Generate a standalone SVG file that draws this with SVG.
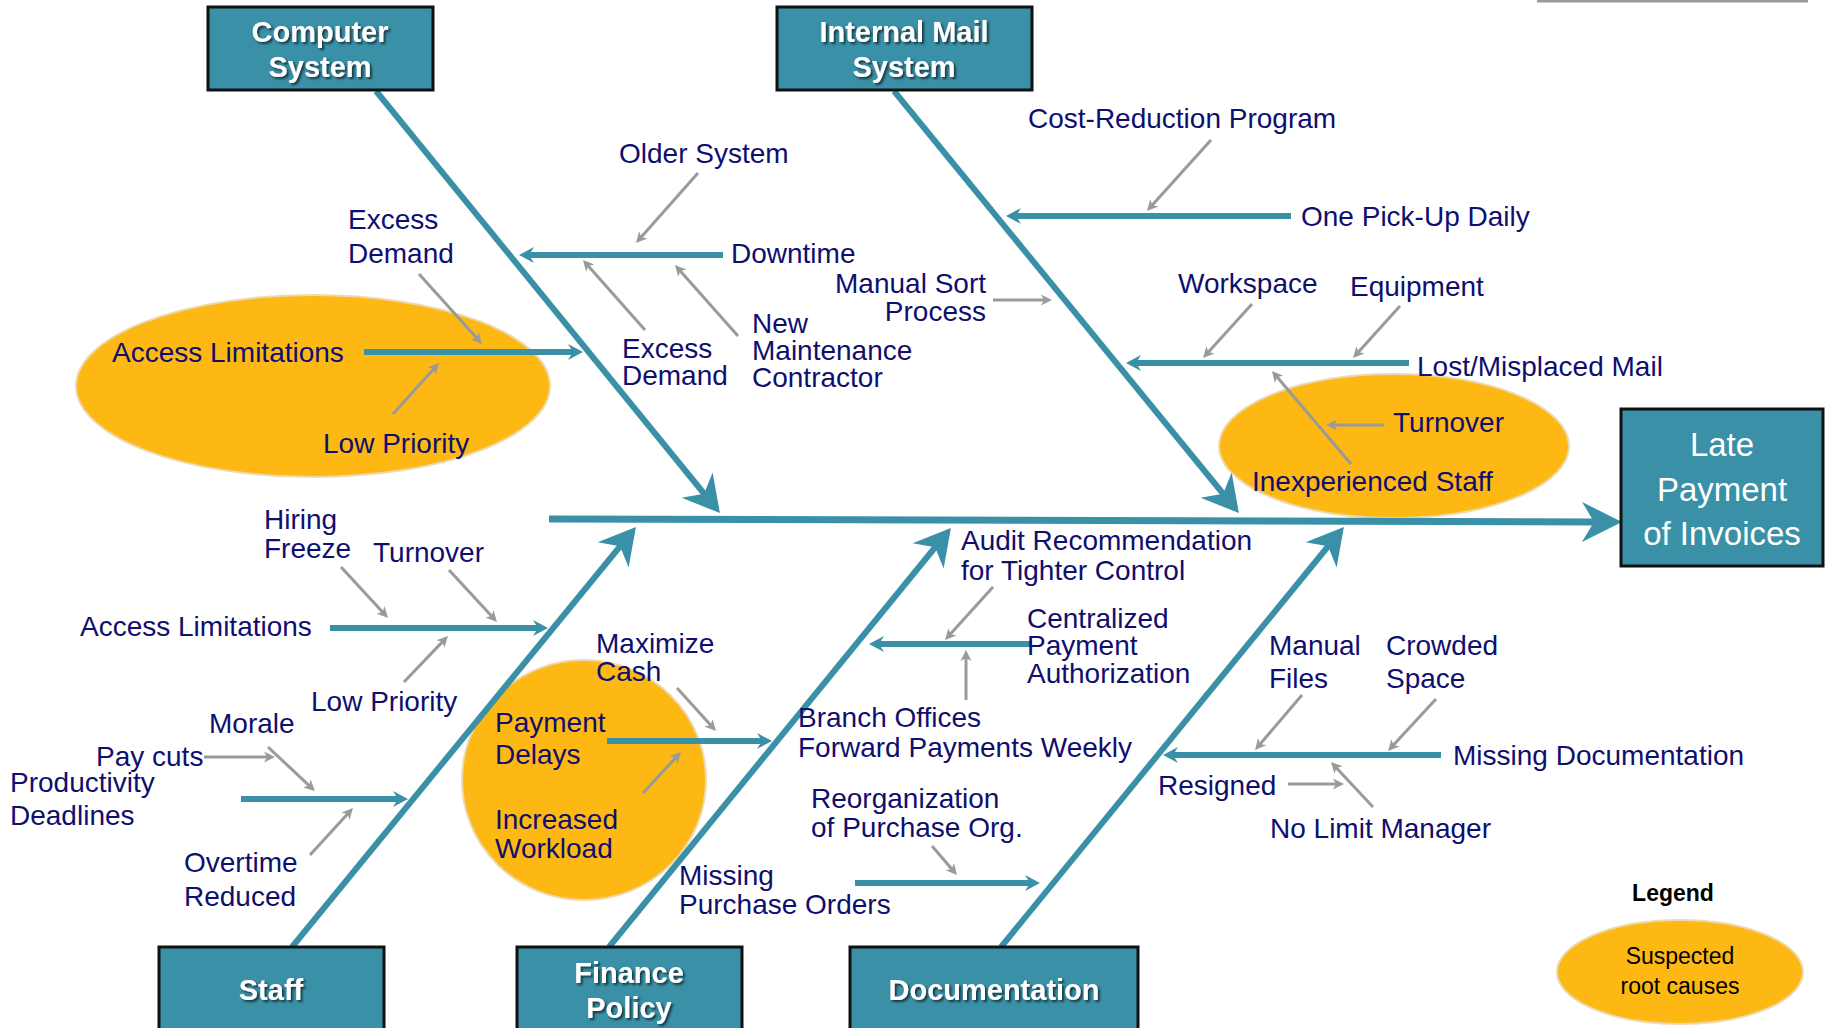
<svg xmlns="http://www.w3.org/2000/svg" width="1829" height="1028" viewBox="0 0 1829 1028">
  <style>
    .box { fill: #3A90A6; stroke: #111; stroke-width: 3; }
    .boxlbl { font-family: "Liberation Sans", Arial, sans-serif; font-weight: bold; font-size: 29px; fill: #fff; text-anchor: middle; filter: url(#shadow); }
    .effect { font-family: "Liberation Sans", Arial, sans-serif; font-size: 33px; fill: #fff; text-anchor: middle; }
    .lbl { font-family: "Liberation Sans", Arial, sans-serif; font-size: 28px; fill: #0F0F6E; }
    .end { text-anchor: end; }
    .spine { stroke: #3A90A6; stroke-width: 7; fill: none; }
    .bone { stroke: #3A90A6; stroke-width: 6; fill: none; marker-end: url(#boneHead); }
    .sub { stroke: #3A90A6; stroke-width: 6; fill: none; marker-end: url(#subHead); }
    .cause { stroke: #9A9A9A; stroke-width: 3; fill: none; marker-end: url(#grayHead); }
    .root { fill: #FDB813; stroke: #EDD9B0; stroke-width: 2; }
    .legend { font-family: "Liberation Sans", Arial, sans-serif; fill: #000; text-anchor: middle; }
  </style>
  <defs>
    <filter id="shadow" x="-20%" y="-40%" width="140%" height="180%">
      <feDropShadow dx="2" dy="2" stdDeviation="1" flood-color="#0B2A33" flood-opacity="0.85"/>
    </filter>
    <marker id="spineHead" markerUnits="userSpaceOnUse" markerWidth="44" markerHeight="44" refX="16" refY="22" orient="auto">
      <path d="M40,22 L0,2 L12,22 L0,42 Z" fill="#3A90A6"/>
    </marker>
    <marker id="boneHead" markerUnits="userSpaceOnUse" markerWidth="40" markerHeight="44" refX="14" refY="22" orient="auto">
      <path d="M36,22 L0,2 L11,22 L0,42 Z" fill="#3A90A6"/>
    </marker>
    <marker id="subHead" markerUnits="userSpaceOnUse" markerWidth="18" markerHeight="18" refX="8" refY="9" orient="auto">
      <path d="M15,9 L0,1 L5,9 L0,17 Z" fill="#3A90A6"/>
    </marker>
    <marker id="grayHead" markerUnits="userSpaceOnUse" markerWidth="14" markerHeight="14" refX="6" refY="7" orient="auto">
      <path d="M11,7 L0,1.5 L3,7 L0,12.5 Z" fill="#9A9A9A"/>
    </marker>
  </defs>

  <rect width="1829" height="1028" fill="#fff"/>
  <line x1="1537" y1="1" x2="1808" y2="1" stroke="#9A9A9A" stroke-width="3"/>

  <!-- suspected root cause highlights -->
  <g id="highlights">
    <ellipse class="root" cx="313" cy="386" rx="237" ry="91"/>
    <ellipse class="root" cx="1394" cy="446" rx="175" ry="72"/>
    <ellipse class="root" cx="584" cy="780" rx="122" ry="120"/>
  </g>

  <!-- connectors: spine, category bones, sub-causes, contributing causes -->
  <g id="connectors">
    <line class="spine" x1="549" y1="519" x2="1598" y2="522" marker-end="url(#spineHead)"/>

    <line class="bone" x1="376" y1="91" x2="706" y2="496"/>
    <line class="bone" x1="894" y1="91" x2="1225" y2="496"/>
    <line class="bone" x1="292" y1="947" x2="622" y2="544"/>
    <line class="bone" x1="609" y1="947" x2="937" y2="545"/>
    <line class="bone" x1="1001" y1="947" x2="1330" y2="544"/>

    <line class="sub" x1="723" y1="255" x2="526" y2="255"/>
    <line class="sub" x1="364" y1="352" x2="576" y2="352"/>
    <line class="sub" x1="1291" y1="216" x2="1013" y2="216"/>
    <line class="sub" x1="1409" y1="363" x2="1133" y2="363"/>
    <line class="sub" x1="330" y1="628" x2="541" y2="628"/>
    <line class="sub" x1="241" y1="799" x2="401" y2="799"/>
    <line class="sub" x1="607" y1="741" x2="765" y2="741"/>
    <line class="sub" x1="1032" y1="644" x2="876" y2="644"/>
    <line class="sub" x1="855" y1="883" x2="1033" y2="883"/>
    <line class="sub" x1="1441" y1="755" x2="1170" y2="755"/>

    <line class="cause" x1="698" y1="173" x2="639.3" y2="239.3"/>
    <line class="cause" x1="419" y1="274" x2="478.7" y2="340.3"/>
    <line class="cause" x1="393" y1="414" x2="435.7" y2="366.7"/>
    <line class="cause" x1="645" y1="330" x2="586.3" y2="263.7"/>
    <line class="cause" x1="738" y1="336" x2="678.3" y2="268.7"/>
    <line class="cause" x1="993" y1="300" x2="1047" y2="300"/>
    <line class="cause" x1="1211" y1="140" x2="1150.3" y2="207.3"/>
    <line class="cause" x1="1252" y1="304" x2="1206.4" y2="354.3"/>
    <line class="cause" x1="1400" y1="306" x2="1356.4" y2="354.3"/>
    <line class="cause" x1="1351" y1="464" x2="1275.2" y2="374.8"/>
    <line class="cause" x1="1384" y1="425" x2="1331" y2="425"/>
    <line class="cause" x1="341" y1="567" x2="384.6" y2="614.3"/>
    <line class="cause" x1="449" y1="570" x2="493.6" y2="618.3"/>
    <line class="cause" x1="404" y1="682" x2="444.5" y2="639.6"/>
    <line class="cause" x1="268" y1="747" x2="311.3" y2="787.6"/>
    <line class="cause" x1="204" y1="757" x2="270" y2="757"/>
    <line class="cause" x1="310" y1="855" x2="349.6" y2="811.7"/>
    <line class="cause" x1="677" y1="688" x2="712.6" y2="727.3"/>
    <line class="cause" x1="643" y1="793" x2="677.6" y2="755.7"/>
    <line class="cause" x1="993" y1="587" x2="948.4" y2="636.3"/>
    <line class="cause" x1="966" y1="700" x2="966" y2="655"/>
    <line class="cause" x1="932" y1="846" x2="953.7" y2="871.2"/>
    <line class="cause" x1="1302" y1="695" x2="1258.3" y2="746.2"/>
    <line class="cause" x1="1436" y1="699" x2="1391.4" y2="747.3"/>
    <line class="cause" x1="1288" y1="784" x2="1339" y2="784"/>
    <line class="cause" x1="1373" y1="807" x2="1334.4" y2="765.7"/>
  </g>

  <!-- category boxes -->
  <g id="computer-system">
    <rect class="box" x="208" y="7" width="225" height="83"/>
    <text class="boxlbl" x="320" y="42">Computer</text>
    <text class="boxlbl" x="320" y="77">System</text>
  </g>
  <g id="internal-mail-system">
    <rect class="box" x="777" y="7" width="255" height="83"/>
    <text class="boxlbl" x="904" y="42">Internal Mail</text>
    <text class="boxlbl" x="904" y="77">System</text>
  </g>
  <g id="staff">
    <rect class="box" x="159" y="947" width="225" height="90"/>
    <text class="boxlbl" x="271" y="1000">Staff</text>
  </g>
  <g id="finance-policy">
    <rect class="box" x="517" y="947" width="225" height="90"/>
    <text class="boxlbl" x="629" y="983">Finance</text>
    <text class="boxlbl" x="629" y="1018">Policy</text>
  </g>
  <g id="documentation">
    <rect class="box" x="850" y="947" width="288" height="90"/>
    <text class="boxlbl" x="994" y="1000">Documentation</text>
  </g>
  <g id="late-payment">
    <rect class="box" x="1621" y="409" width="202" height="157" stroke-width="2"/>
    <text class="effect" x="1722" y="456">Late</text>
    <text class="effect" x="1722" y="501">Payment</text>
    <text class="effect" x="1722" y="545">of Invoices</text>
  </g>

  <!-- computer system causes -->
  <g id="computer-causes">
    <text class="lbl" x="619" y="163">Older System</text>
    <text class="lbl" x="348" y="229">Excess</text>
    <text class="lbl" x="348" y="263">Demand</text>
    <text class="lbl" x="112" y="362">Access Limitations</text>
    <text class="lbl" x="323" y="453">Low Priority</text>
    <text class="lbl" x="731" y="263">Downtime</text>
    <text class="lbl" x="622" y="358">Excess</text>
    <text class="lbl" x="622" y="385">Demand</text>
    <text class="lbl" x="752" y="333">New</text>
    <text class="lbl" x="752" y="360">Maintenance</text>
    <text class="lbl" x="752" y="387">Contractor</text>
  </g>

  <!-- internal mail causes -->
  <g id="mail-causes">
    <text class="lbl end" x="986" y="293">Manual Sort</text>
    <text class="lbl end" x="986" y="321">Process</text>
    <text class="lbl" x="1028" y="128">Cost-Reduction Program</text>
    <text class="lbl" x="1301" y="226">One Pick-Up Daily</text>
    <text class="lbl" x="1178" y="293">Workspace</text>
    <text class="lbl" x="1350" y="296">Equipment</text>
    <text class="lbl" x="1417" y="376">Lost/Misplaced Mail</text>
    <text class="lbl" x="1393" y="432">Turnover</text>
    <text class="lbl" x="1252" y="491">Inexperienced Staff</text>
  </g>

  <!-- staff causes -->
  <g id="staff-causes">
    <text class="lbl" x="264" y="529">Hiring</text>
    <text class="lbl" x="264" y="558">Freeze</text>
    <text class="lbl" x="373" y="562">Turnover</text>
    <text class="lbl" x="80" y="636">Access Limitations</text>
    <text class="lbl" x="311" y="711">Low Priority</text>
    <text class="lbl" x="209" y="733">Morale</text>
    <text class="lbl" x="96" y="766">Pay cuts</text>
    <text class="lbl" x="10" y="792">Productivity</text>
    <text class="lbl" x="10" y="825">Deadlines</text>
    <text class="lbl" x="184" y="872">Overtime</text>
    <text class="lbl" x="184" y="906">Reduced</text>
  </g>

  <!-- finance policy causes -->
  <g id="finance-causes">
    <text class="lbl" x="596" y="653">Maximize</text>
    <text class="lbl" x="596" y="681">Cash</text>
    <text class="lbl" x="495" y="732">Payment</text>
    <text class="lbl" x="495" y="764">Delays</text>
    <text class="lbl" x="495" y="829">Increased</text>
    <text class="lbl" x="495" y="858">Workload</text>
    <text class="lbl" x="961" y="550">Audit Recommendation</text>
    <text class="lbl" x="961" y="580">for Tighter Control</text>
    <text class="lbl" x="1027" y="628">Centralized</text>
    <text class="lbl" x="1027" y="655">Payment</text>
    <text class="lbl" x="1027" y="683">Authorization</text>
    <text class="lbl" x="798" y="727">Branch Offices</text>
    <text class="lbl" x="798" y="757">Forward Payments Weekly</text>
    <text class="lbl" x="811" y="808">Reorganization</text>
    <text class="lbl" x="811" y="837">of Purchase Org.</text>
    <text class="lbl" x="679" y="885">Missing</text>
    <text class="lbl" x="679" y="914">Purchase Orders</text>
  </g>

  <!-- documentation causes -->
  <g id="documentation-causes">
    <text class="lbl" x="1269" y="655">Manual</text>
    <text class="lbl" x="1269" y="688">Files</text>
    <text class="lbl" x="1386" y="655">Crowded</text>
    <text class="lbl" x="1386" y="688">Space</text>
    <text class="lbl" x="1453" y="765">Missing Documentation</text>
    <text class="lbl" x="1158" y="795">Resigned</text>
    <text class="lbl" x="1270" y="838">No Limit Manager</text>
  </g>

  <!-- legend -->
  <g id="legend">
    <text class="legend" x="1673" y="901" font-size="23" font-weight="bold">Legend</text>
    <ellipse class="root" cx="1680" cy="972" rx="123" ry="52"/>
    <text class="legend" x="1680" y="964" font-size="23">Suspected</text>
    <text class="legend" x="1680" y="994" font-size="23">root causes</text>
  </g>
</svg>
